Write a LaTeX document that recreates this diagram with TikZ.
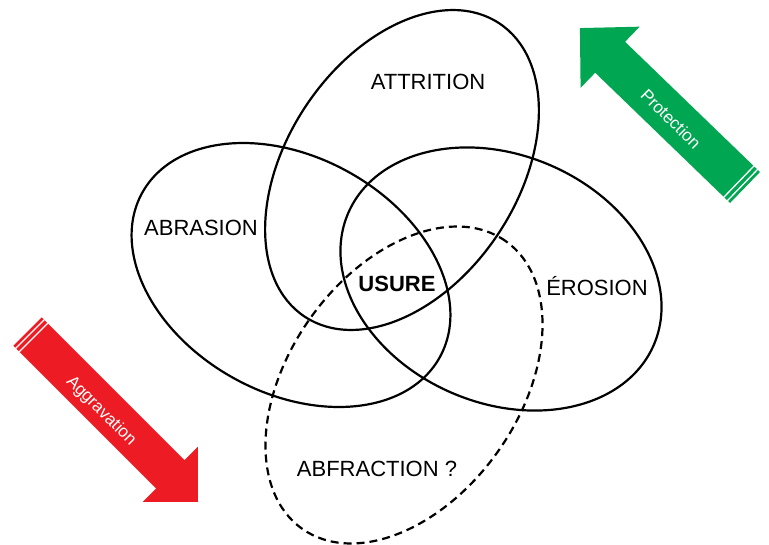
\documentclass[tikz,border=0pt]{standalone}
\usepackage{fontspec}
\setmainfont{Liberation Sans}
\definecolor{redarrow}{HTML}{ED1C24}
\definecolor{greenarrow}{HTML}{00A651}
\begin{document}
\begin{tikzpicture}[x=1pt,y=-1pt,
  venn/.style={line width=2.2pt, black},
  vennlabel/.style={font=\fontsize{22}{26}\selectfont, text=black, inner sep=0pt},
  arrowtext/.style={font=\fontsize{17}{20}\selectfont, text=white, inner sep=0pt},
  stripe/.style={white, line width=1.3pt}]
\useasboundingbox[fill=white] (0,0) rectangle (769,544);

% red arrow (Aggravation)
\begin{scope}[shift={(27.5,331.5)}, rotate=-45]
  \fill[redarrow] (0,-20) -- (202,-20) -- (202,-39) -- (241,0) -- (202,39) -- (202,20) -- (0,20) -- cycle;
  \draw[stripe] (3.5,-21) -- (3.5,21) (8.5,-21) -- (8.5,21);
\end{scope}
% green arrow (Protection)
\begin{scope}[shift={(745,187.5)}, rotate=136]
  \fill[greenarrow] (0,-21.5) -- (187.5,-21.5) -- (187.5,-42.5) -- (229.5,0) -- (187.5,42.5) -- (187.5,21.5) -- (0,21.5) -- cycle;
  \draw[stripe] (3.5,-22.5) -- (3.5,22.5) (8.5,-22.5) -- (8.5,22.5);
\end{scope}
\node[arrowtext, rotate=-45] (agg) at (101,411) {Aggravation};
\node[arrowtext, rotate=-45] (prot) at (671,119) {Protection};

% attrition
\draw[venn, rotate around={56.4:(402,170)}] (402,170) ellipse [x radius=176pt, y radius=115.5pt];
% abrasion
\draw[venn, rotate around={-28.9:(291,275)}] (291,275) ellipse [x radius=170pt, y radius=118pt];
% erosion
\draw[venn, rotate around={-23.3:(501,279)}] (501,279) ellipse [x radius=166.4pt, y radius=124pt];
% abfraction (dashed)
\draw[venn, dash pattern=on 8pt off 5pt, rotate around={54.7:(404,385)}] (404,385) ellipse [x radius=176.2pt, y radius=115.1pt];

\node[vennlabel] (attr) at (428,82) {ATTRITION};
\node[vennlabel] (abr) at (201,228) {ABRASION};
\node[vennlabel, font=\fontsize{22}{26}\selectfont\bfseries] (usure) at (397,284) {USURE};
\node[vennlabel] (ero) at (597,286) {ÉROSION};
\node[vennlabel] (abf) at (377,469) {ABFRACTION ?};
\end{tikzpicture}
\end{document}
